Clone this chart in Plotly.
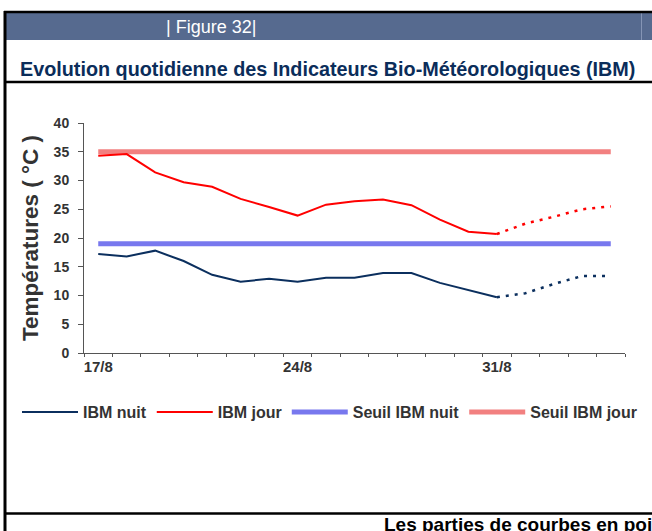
import plotly.graph_objects as go

# ---------------- data ----------------
dates = ["2006-08-17", "2006-08-18", "2006-08-19", "2006-08-20", "2006-08-21",
         "2006-08-22", "2006-08-23", "2006-08-24", "2006-08-25", "2006-08-26",
         "2006-08-27", "2006-08-28", "2006-08-29", "2006-08-30", "2006-08-31",
         "2006-09-01", "2006-09-02", "2006-09-03", "2006-09-04"]
ibm_nuit = [17.2, 16.8, 17.8, 16.0, 13.6, 12.4, 12.9, 12.4, 13.1, 13.1,
            13.9, 13.9, 12.2, 11.0, 9.7, 10.4, 12.0, 13.4, 13.4]
ibm_jour = [34.3, 34.6, 31.4, 29.7, 28.9, 26.8, 25.4, 23.9, 25.8, 26.4,
            26.7, 25.7, 23.2, 21.1, 20.7, 22.5, 23.7, 25.0, 25.5]
seuil_nuit = [19] * 19
seuil_jour = [35] * 19
n_observed = 15  # first 15 days observed, remainder forecast (dotted)

tick_dates = ["2006-08-17", "2006-08-24", "2006-08-31"]
tick_text = ["17/8", "24/8", "31/8"]
y_ticks = [0, 5, 10, 15, 20, 25, 30, 35, 40]

# ---------------- layout geometry ----------------
W, H = 652, 531
L, R, T, B = 84, 27, 123, 178
PW, PH = W - L - R, H - T - B


def px(x):
    return (x - L) / PW


def py(y):
    return (H - B - y) / PH


NAVY = "#0b2f5e"
RED = "#ff0000"
SEUIL_N = "#7878ee"
SEUIL_J = "#f28080"
TXT = "#333333"
SANS = "Liberation Sans, Arial, sans-serif"

fig = go.Figure()

fig.add_trace(go.Scatter(x=dates, y=seuil_nuit, mode="lines", name="Seuil IBM nuit",
                         line=dict(color=SEUIL_N, width=5), legendrank=3))
fig.add_trace(go.Scatter(x=dates, y=seuil_jour, mode="lines", name="Seuil IBM jour",
                         line=dict(color=SEUIL_J, width=5), legendrank=4))

k = n_observed
fig.add_trace(go.Scatter(x=dates[:k], y=ibm_nuit[:k], mode="lines", name="IBM nuit",
                         line=dict(color=NAVY, width=2), legendrank=1))
fig.add_trace(go.Scatter(x=dates[k - 1:], y=ibm_nuit[k - 1:], mode="lines", name="IBM nuit",
                         line=dict(color=NAVY, width=2.5, dash="3px,6px"), showlegend=False))
fig.add_trace(go.Scatter(x=dates[:k], y=ibm_jour[:k], mode="lines", name="IBM jour",
                         line=dict(color=RED, width=2), legendrank=2))
fig.add_trace(go.Scatter(x=dates[k - 1:], y=ibm_jour[k - 1:], mode="lines", name="IBM jour",
                         line=dict(color=RED, width=2.5, dash="3px,6px"), showlegend=False))

xr = ["2006-08-16 12:00", "2006-09-04 12:00"]

fig.update_layout(
    width=W, height=H,
    margin=dict(l=L, r=R, t=T, b=B),
    paper_bgcolor="white", plot_bgcolor="white",
    showlegend=True,
    legend=dict(orientation="h", x=px(17), y=py(395), xanchor="left", yanchor="top",
                font=dict(family=SANS, size=16, color=TXT, weight="bold"),
                itemwidth=56, bgcolor="rgba(0,0,0,0)", tracegroupgap=0),
    xaxis=dict(type="date", range=xr, tickmode="array", tickvals=tick_dates, ticktext=tick_text,
               ticks="", showgrid=False, zeroline=False, showline=True, linecolor="#555555",
               linewidth=1, tickfont=dict(family=SANS, size=15, color=TXT, weight="bold"),
               minor=dict(ticks="outside", ticklen=3, tickcolor="#555555", tickmode="linear",
                          tick0="2006-08-16 12:00", dtick=86400000, showgrid=False)),
    xaxis2=dict(type="date", range=xr, overlaying="x", anchor="y", showticklabels=False,
                ticks="", showgrid=False, zeroline=False, showline=False,
                minor=dict(ticks="inside", ticklen=3, tickcolor="#555555", tickmode="linear",
                           tick0="2006-08-16 12:00", dtick=86400000, showgrid=False)),
    yaxis=dict(range=[0, 40], tickmode="array", tickvals=y_ticks, ticks="outside", ticklen=5,
               tickcolor="#555555", showgrid=False, zeroline=False, showline=True,
               linecolor="#555555", linewidth=1, ticklabelstandoff=6,
               tickfont=dict(family=SANS, size=14, color=TXT, weight="bold"),
               title=dict(text="Températures ( °C )", standoff=8,
                          font=dict(family=SANS, size=22.5, color=TXT, weight="bold"))),
)

shapes = [
    # header bar
    dict(type="rect", x0=px(6), x1=px(652), y0=py(40), y1=py(13), fillcolor="#566a8f",
         line=dict(width=0)),
    dict(type="line", x0=px(641.5), x1=px(641.5), y0=py(40), y1=py(13),
         line=dict(color="#8595b5", width=1)),
    # frame lines
    dict(type="line", x0=px(4), x1=px(652), y0=py(12), y1=py(12), line=dict(color="black", width=2.5)),
    dict(type="line", x0=px(5), x1=px(5), y0=py(11), y1=py(531), line=dict(color="black", width=3)),
    dict(type="line", x0=px(4), x1=px(652), y0=py(82), y1=py(82), line=dict(color="black", width=2.5)),
    dict(type="line", x0=px(4), x1=px(652), y0=py(513.5), y1=py(513.5), line=dict(color="black", width=2.5)),
]
for s in shapes:
    s.update(xref="paper", yref="paper", layer="above")
fig.update_layout(shapes=shapes)

fig.add_annotation(text="| Figure 32|", xref="paper", yref="paper", x=px(211), y=py(27),
                   xanchor="center", yanchor="middle", showarrow=False,
                   font=dict(family=SANS, size=18, color="white"))
fig.add_annotation(text="Evolution quotidienne des Indicateurs Bio-Météorologiques (IBM)",
                   xref="paper", yref="paper", x=px(18), y=py(69), xanchor="left", yanchor="middle",
                   showarrow=False, font=dict(family=SANS, size=19.8, color="#0b2d5a", weight="bold"))
fig.add_annotation(text="Les parties de courbes en poi", xref="paper", yref="paper",
                   x=px(382), y=py(524.5), xanchor="left", yanchor="middle", showarrow=False,
                   font=dict(family=SANS, size=19, color="black", weight="bold"))

fig.write_html("out.html", config={"displayModeBar": False},
               post_script="document.body.style.margin='0';document.body.style.padding='0';")
